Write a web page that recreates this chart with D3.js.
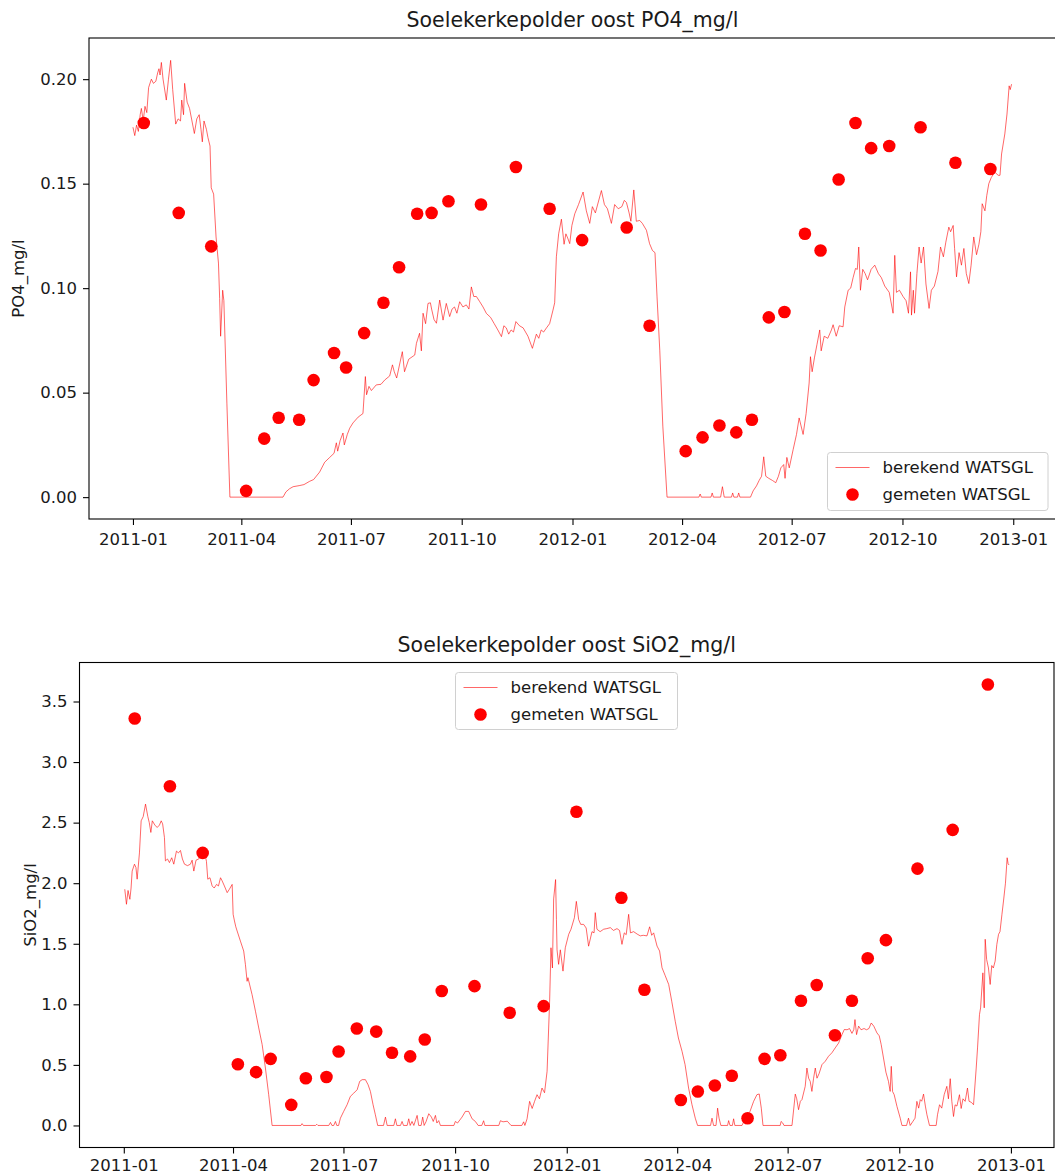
<!DOCTYPE html>
<html>
<head>
<meta charset="utf-8">
<script src="https://cdn.jsdelivr.net/npm/d3@7"></script>
<style>
  html, body { margin: 0; padding: 0; background: #fff; }
  svg { display: block; font-family: "DejaVu Sans", sans-serif; }
</style>
</head>
<body>
<svg id="chart" width="1055" height="1175"></svg>
<script>
// ---------------- DATA ----------------
const baseDate = "2011-01-01"; // day offsets of the calculated series count from here
const xTickLabels = ["2011-01","2011-04","2011-07","2011-10","2012-01","2012-04","2012-07","2012-10","2013-01"];
const po4TickValues = [0, 0.05, 0.10, 0.15, 0.20];
const sio2TickValues = [0, 0.5, 1.0, 1.5, 2.0, 2.5, 3.0, 3.5];
const seriesNames = ["berekend WATSGL", "gemeten WATSGL"];

const measuredDates = ["2011-01-10","2011-02-08","2011-03-07","2011-04-05","2011-04-20","2011-05-02","2011-05-19","2011-05-31",
  "2011-06-17","2011-06-27","2011-07-12","2011-07-28","2011-08-10","2011-08-25","2011-09-06","2011-09-20","2011-10-17",
  "2011-11-15","2011-12-13","2012-01-09","2012-02-15","2012-03-05","2012-04-04","2012-04-18","2012-05-02","2012-05-16",
  "2012-05-29","2012-06-12","2012-06-25","2012-07-12","2012-07-25","2012-08-09","2012-08-23","2012-09-05","2012-09-20",
  "2012-10-16","2012-11-14","2012-12-13"];

const po4Measured = [0.179,0.136,0.120,0.003,0.028,0.038,0.037,0.056,0.069,0.062,0.0785,0.093,0.110,0.1356,0.136,0.1416,
  0.140,0.158,0.138,0.123,0.129,0.082,0.022,0.0286,0.0343,0.031,0.037,0.086,0.0886,0.126,0.118,0.152,0.179,0.167,0.168,
  0.177,0.160,0.157];

const sio2Measured = [3.36,2.80,2.25,0.505,0.44,0.55,0.17,0.39,0.40,0.61,0.80,0.775,0.60,0.57,0.71,1.11,1.15,0.93,0.985,
  2.59,1.88,1.12,0.21,0.28,0.33,0.41,0.06,0.55,0.58,1.03,1.16,0.745,1.03,1.38,1.53,2.12,2.44,3.64];

// calculated series: [day offset from baseDate, value]
const po4Calc = [[0,0.177],[1.5,0.173],[3,0.178],[4.5,0.175],[6,0.183],[7,0.186],[8.5,0.180],[10,0.187],[11.5,0.184],
  [13,0.196],[15.3,0.200],[17,0.198],[19,0.199],[20.5,0.203],[21.6,0.205],[22.5,0.202],[23.6,0.208],[25,0.200],[27.7,0.190],
  [29.5,0.200],[31.3,0.209],[33,0.195],[35.5,0.1785],[37.5,0.181],[39.5,0.180],[40.5,0.190],[42,0.183],[42.9,0.198],
  [45,0.189],[47,0.186],[49,0.180],[51,0.174],[53,0.181],[55,0.183],[56.5,0.176],[57.6,0.170],[59,0.180],[61,0.176],
  [62.3,0.172],[64,0.168],[65,0.148],[67,0.145],[69,0.1245],[71,0.112],[72,0.095],[72.8,0.077],[74.5,0.099],[75.5,0.094],
  [78,0.045],[80.5,0.0],[124.6,0.0],[127,0.0025],[130,0.004],[133,0.005],[138,0.0055],[142,0.006],[146.8,0.0076],
  [150,0.0084],[155,0.012],[159.2,0.0167],[163,0.0188],[167,0.021],[168.9,0.026],[170,0.022],[172,0.027],[174.4,0.0307],
  [175.5,0.025],[178,0.030],[180,0.033],[182.7,0.0355],[187,0.0383],[191,0.040],[193,0.0577],[194,0.049],[196,0.053],
  [198,0.051],[202,0.0537],[206,0.054],[209,0.056],[213.2,0.058],[215.5,0.0633],[217,0.060],[219,0.057],[223.7,0.0696],
  [225.5,0.060],[229,0.066],[234,0.068],[235.4,0.0736],[238,0.0784],[239.5,0.070],[240.9,0.088],[243,0.083],[245,0.0927],
  [247,0.093],[248,0.090],[250,0.085],[252,0.0832],[254.7,0.0943],[257.5,0.0847],[260.2,0.0927],[263,0.0864],[265,0.090],
  [267,0.091],[269,0.088],[271.3,0.0935],[274,0.091],[276.8,0.092],[279,0.090],[281,0.1006],[283,0.096],[285.2,0.096],
  [288,0.0935],[290.7,0.091],[293.5,0.0879],[297,0.086],[300,0.083],[303,0.080],[306,0.0768],[308,0.082],[310,0.081],
  [312,0.078],[314,0.080],[316,0.079],[318,0.084],[321,0.082],[324,0.081],[326,0.079],[328,0.077],[331.7,0.0712],
  [335,0.078],[337,0.076],[339,0.080],[341,0.079],[343.4,0.081],[346,0.083],[348.8,0.0895],[350.2,0.093],[351.6,0.115],
  [353.5,0.126],[355.8,0.133],[358,0.121],[359.5,0.126],[361,0.124],[362.7,0.1213],[364.5,0.130],[366.9,0.1356],
  [370,0.140],[373.8,0.146],[376.5,0.137],[379.3,0.131],[381.5,0.139],[384,0.136],[389,0.1467],[391.5,0.140],[394,0.138],
  [397.3,0.131],[400,0.140],[403,0.138],[406,0.139],[408,0.142],[409.8,0.141],[412,0.136],[413.5,0.132],[415.9,0.147],
  [418,0.132],[420.8,0.1324],[423,0.131],[426.4,0.1277],[429,0.1213],[431.4,0.118],[433.5,0.117],[435.2,0.0958],
  [437.5,0.070],[440,0.034],[443.5,0.0],[470,0.0],[471,0.0015],[472,0.0],[480,0.0],[481,0.002],[482,0.0],[488,0.0],
  [489.5,0.005],[491,0.0],[497,0.0],[498,0.002],[499,0.0],[502,0.0],[503,0.002],[504,0.0],[512.8,0.0],[515,0.003],
  [517.8,0.0054],[520,0.008],[522,0.010],[523.8,0.0193],[525.5,0.010],[528,0.009],[531,0.008],[533.8,0.0069],[536,0.010],
  [538,0.014],[540.4,0.0156],[541.5,0.009],[543,0.019],[545,0.014],[548.2,0.0227],[551,0.030],[553.2,0.0379],[556.5,0.030],
  [559,0.040],[561.5,0.0546],[562.6,0.0672],[564,0.060],[566,0.067],[568,0.073],[570.3,0.080],[571.5,0.070],[574,0.077],
  [577,0.076],[580,0.080],[581.4,0.0825],[584,0.077],[586.5,0.082],[589.7,0.0815],[591.1,0.091],[593.9,0.099],[596,0.100],
  [598,0.105],[600,0.1094],[601.5,0.109],[602.7,0.1197],[604.1,0.099],[606,0.109],[608,0.107],[610,0.104],[613,0.109],
  [616,0.111],[619,0.107],[621.5,0.105],[624.3,0.101],[628,0.098],[631.2,0.088],[632.6,0.1157],[634,0.098],[636.5,0.099],
  [639.5,0.096],[642,0.094],[644,0.088],[645.7,0.1078],[646.5,0.0871],[648,0.099],[649,0.088],[651,0.107],[652.8,0.1197],
  [654.5,0.112],[656.5,0.1197],[658.5,0.102],[661.1,0.0903],[663,0.099],[665.5,0.101],[668.5,0.108],[670.6,0.1197],
  [673,0.115],[675,0.122],[677.5,0.1292],[679,0.127],[681.1,0.130],[682.3,0.119],[683.9,0.1054],[686,0.117],[688,0.111],
  [690,0.119],[692,0.107],[694.1,0.1022],[696,0.111],[698.2,0.1245],[700.5,0.116],[702.5,0.121],[704.1,0.127],
  [705.2,0.1404],[707.5,0.137],[709,0.1443],[710.7,0.150],[712.8,0.153],[715.7,0.1555],[718.5,0.154],[720,0.154],
  [721.3,0.1642],[724,0.1738],[725.8,0.1833],[727.6,0.1968],[728.5,0.1950],[729.6,0.1976]];

const sio2Calc = [[0.8,1.95],[2.2,1.826],[3.5,1.94],[5,1.867],[6,1.96],[6.9,2.10],[8.8,2.157],[10,2.13],[11,2.033],
  [12.9,2.25],[14.3,2.515],[16,2.55],[17.9,2.653],[19.8,2.55],[21,2.50],[22.3,2.419],[23.5,2.515],[25.6,2.48],[27.5,2.46],
  [29.4,2.48],[30.8,2.515],[32,2.49],[33.5,2.377],[34.3,2.184],[36,2.20],[37.6,2.17],[39.5,2.21],[41.2,2.157],[43.4,2.265],
  [45,2.25],[46.7,2.27],[48.3,2.20],[50,2.157],[52.5,2.145],[54.9,2.157],[56.3,2.19],[57.7,2.10],[59.5,2.19],[61.8,2.20],
  [64,2.23],[66.5,2.26],[68.1,2.18],[69.2,2.033],[71,2.045],[72.8,1.977],[74.5,1.96],[76.4,1.99],[78,1.977],[79.7,2.045],
  [81,2.02],[82.9,1.977],[85.2,1.922],[87,1.95],[89.3,1.99],[90.1,1.743],[91.2,1.688],[92.3,1.64],[93.4,1.605],[96.1,1.522],
  [98.8,1.44],[100.2,1.33],[101.6,1.19],[102.3,1.22],[105.7,1.08],[108.5,0.943],[111.2,0.805],[114,0.668],[116.7,0.474],
  [119.4,0.254],[122.2,0.0],[146,0.0],[146.9,0.015],[148,0.0],[158,0.0],[159,0.01],[160,0.0],[168.9,0.0],[170.3,0.025],
  [171.5,0.0],[173,0.0],[174.4,0.033],[175.5,0.0],[177,0.0],[178.5,0.06],[181.2,0.116],[184,0.171],[186.7,0.24],
  [189.5,0.267],[192.3,0.295],[194.4,0.364],[196.4,0.378],[199.1,0.378],[201.3,0.336],[203.2,0.281],[205.4,0.171],
  [207.3,0.088],[209.2,0.0],[214,0.0],[215.6,0.069],[217,0.0],[222.5,0.0],[223.8,0.055],[225,0.0],[228,0.0],[229.3,0.033],
  [230.5,0.0],[233.5,0.0],[234.8,0.055],[236,0.0],[237.5,0.033],[239,0.0],[241.7,0.083],[243,0.0],[245,0.0],[246.3,0.069],
  [247.5,0.0],[249,0.03],[251.3,0.097],[253.5,0.069],[255,0.033],[256.8,0.083],[258,0.02],[259.5,0.04],[260.9,0.0],
  [272,0.0],[273.2,0.033],[275,0.02],[278.7,0.069],[281.5,0.116],[284.2,0.116],[287,0.055],[289.7,0.033],[292,0.0],
  [295,0.0],[296.5,0.039],[297.5,0.0],[309,0.0],[310.3,0.039],[312.5,0.03],[316,0.035],[319.1,0.0],[328,0.0],[329.5,0.03],
  [330.5,0.0],[332.3,0.055],[334.4,0.199],[336.5,0.14],[338.5,0.199],[340.5,0.254],[342.5,0.22],[344.6,0.309],[346.7,0.27],
  [348.8,0.447],[350.9,1.026],[352,1.467],[353.2,1.30],[354.2,1.87],[355.8,2.03],[356.5,1.70],[357,1.45],[358.3,1.33],
  [359.7,1.45],[361.9,1.274],[363.8,1.467],[366.6,1.578],[368.5,1.62],[371.3,1.715],[372.9,1.85],[374.8,1.70],[376.5,1.66],
  [378.9,1.66],[381,1.63],[383,1.48],[385.8,1.60],[387.5,1.59],[388.5,1.757],[389.9,1.62],[392.5,1.60],[395.4,1.62],
  [398,1.625],[400.9,1.633],[403.5,1.61],[406.4,1.625],[408.5,1.61],[410.5,1.495],[412.4,1.59],[414,1.575],[416,1.743],
  [417.5,1.59],[420.1,1.60],[423,1.58],[425.6,1.565],[428,1.57],[431.1,1.565],[433.3,1.64],[435,1.57],[436.6,1.59],
  [439.4,1.481],[441.5,1.44],[443.5,1.302],[446,1.24],[449,1.164],[451.5,1.026],[454.4,0.86],[457,0.722],[460,0.612],
  [462.5,0.502],[465.4,0.309],[468.2,0.171],[470.9,0.06],[472.8,0.0],[483.5,0.0],[484.7,0.06],[486,0.0],[488,0.0],
  [489.3,0.143],[490.5,0.06],[492,0.0],[497.5,0.0],[498.4,0.04],[499.5,0.0],[501.5,0.0],[502.5,0.055],[503.5,0.0],
  [509.4,0.0],[513.5,0.088],[516,0.116],[519,0.199],[521.7,0.254],[523.6,0.26],[525.3,0.143],[526.7,0.0],[540.9,0.0],
  [541.6,0.033],[543,0.02],[544,0.0],[550.6,0.0],[553.3,0.259],[554.5,0.22],[556,0.13],[557.5,0.20],[558.8,0.213],
  [561.5,0.323],[562.9,0.474],[564.3,0.39],[565.6,0.364],[567,0.281],[568.4,0.39],[569.8,0.474],[571.2,0.39],[573,0.43],
  [575.3,0.502],[578,0.53],[580.7,0.571],[583.5,0.60],[586.2,0.64],[589,0.68],[591.8,0.75],[593.7,0.792],[596,0.79],
  [598,0.80],[600,0.76],[601.5,0.79],[602.5,0.874],[603.8,0.75],[605.5,0.82],[607.5,0.79],[610,0.80],[612,0.79],[614,0.80],
  [615.9,0.846],[618,0.82],[620.6,0.764],[622.5,0.74],[624.1,0.668],[626,0.557],[628,0.44],[630.1,0.364],[631.5,0.281],
  [632.4,0.488],[633.5,0.28],[634.8,0.254],[637.1,0.157],[639.8,0.06],[641.2,0.0],[645,0.0],[646.6,0.06],[648,0.0],
  [650,0.03],[652,0.06],[653.5,0.199],[655,0.143],[656.3,0.213],[657.5,0.20],[659,0.259],[660.5,0.16],[661.8,0.088],
  [663.9,0.0],[669.4,0.0],[670.5,0.088],[672.2,0.171],[674,0.143],[676,0.254],[678.2,0.323],[679.5,0.22],[681,0.386],
  [682.3,0.20],[683.7,0.074],[685,0.17],[686.5,0.16],[688.6,0.254],[690,0.14],[691.5,0.22],[693.3,0.199],[695.2,0.309],
  [696.5,0.2],[698.5,0.19],[700.2,0.171],[702.4,0.474],[703.5,0.64],[705.1,0.916],[706,0.97],[707.9,1.26],[709,0.971],
  [709.8,1.537],[711,1.37],[712.5,1.30],[713.9,1.164],[715.2,1.32],[716.5,1.30],[718,1.357],[719.4,1.495],[720.8,1.578],
  [722,1.6],[723.6,1.743],[724.9,1.853],[726.5,2.0],[727.9,2.21],[728.7,2.16],[729.5,2.15]];

// ---------------- DRAWING ----------------
const DAY = 864e5;
const base = new Date(baseDate + "T00:00:00Z").getTime();
const toDate = d => new Date(base + d * DAY);
const parseDay = d3.utcParse("%Y-%m-%d");
const parseMonth = d3.utcParse("%Y-%m");
const fmtMonth = d3.utcFormat("%Y-%m");
const xDomain = [toDate(-36.5), toDate(766.5)];

const panels = [
  { title: "Soelekerkepolder oost PO4_mg/l", ylabel: "PO4_mg/l", calc: po4Calc, meas: po4Measured,
    yDomain: [-0.01046, 0.2197], yTicks: po4TickValues, fmt: d3.format(".2f"),
    box: { l: 89, r: 1056, t: 38, b: 519 }, ylabelX: 18, xPad: 8,
    legend: { x: 827.5, y: 452.5, w: 220.5, h: 58 } },
  { title: "Soelekerkepolder oost SiO2_mg/l", ylabel: "SiO2_mg/l", calc: sio2Calc, meas: sio2Measured,
    yDomain: [-0.182, 3.822], yTicks: sio2TickValues, fmt: d3.format(".1f"),
    box: { l: 79.5, r: 1054, t: 662.5, b: 1147.5 }, ylabelX: 30, xPad: 6,
    legend: { x: 455.5, y: 672.5, w: 222, h: 57 } }
];

const svg = d3.select("#chart");
const textColor = "#1a1a1a";
const fontSize = 16.5;
const lineColor = "#ff0000";

panels.forEach(p => {
  const x = d3.scaleUtc().domain(xDomain).range([p.box.l, p.box.r]);
  const y = d3.scaleLinear().domain(p.yDomain).range([p.box.b, p.box.t]);
  const g = svg.append("g");

  const clipId = "clip" + p.ylabel.replace(/[^a-z0-9]/gi, "");
  svg.append("clipPath").attr("id", clipId).append("rect")
    .attr("x", p.box.l).attr("y", p.box.t).attr("width", p.box.r - p.box.l).attr("height", p.box.b - p.box.t);

  // calculated line
  const line = d3.line().x(d => x(toDate(d[0]))).y(d => y(d[1]));
  g.append("path").datum(p.calc)
    .attr("d", line).attr("fill", "none").attr("stroke", lineColor)
    .attr("stroke-opacity", 0.75)
    .attr("stroke-width", 0.8).attr("stroke-linejoin", "round")
    .attr("clip-path", `url(#${clipId})`);

  // measured dots
  g.selectAll("circle.meas").data(p.meas).join("circle")
    .attr("class", "meas")
    .attr("cx", (d, i) => x(parseDay(measuredDates[i])))
    .attr("cy", d => y(d))
    .attr("r", 6.3).attr("fill", "#ff0000");

  // axes
  const xAxis = d3.axisBottom(x)
    .tickValues(xTickLabels.map(s => parseMonth(s)))
    .tickFormat(fmtMonth).tickSize(6).tickPadding(p.xPad);
  const gx = g.append("g").attr("transform", `translate(0,${p.box.b})`).call(xAxis);
  const yAxis = d3.axisLeft(y).tickValues(p.yTicks).tickFormat(p.fmt).tickSize(6).tickPadding(6);
  const gy = g.append("g").attr("transform", `translate(${p.box.l},0)`).call(yAxis);
  [gx, gy].forEach(a => {
    a.select(".domain").remove();
    a.selectAll(".tick line").attr("stroke", "#000").attr("stroke-width", 1.1);
    a.selectAll(".tick text").attr("fill", textColor).style("font-size", fontSize + "px")
      .style("font-family", "'DejaVu Sans', sans-serif");
  });

  // frame
  g.append("rect").attr("x", p.box.l).attr("y", p.box.t)
    .attr("width", p.box.r - p.box.l).attr("height", p.box.b - p.box.t)
    .attr("fill", "none").attr("stroke", "#000").attr("stroke-width", 1.1);

  // title
  g.append("text").attr("x", (p.box.l + p.box.r) / 2).attr("y", p.box.t - 11)
    .attr("text-anchor", "middle").attr("fill", textColor)
    .style("font-size", "20.5px").text(p.title);

  // y label
  g.append("text")
    .attr("transform", `translate(${p.ylabelX},${(p.box.t + p.box.b) / 2}) rotate(-90)`)
    .attr("text-anchor", "middle").attr("dy", "0.35em").attr("fill", textColor)
    .style("font-size", fontSize + "px").text(p.ylabel);

  // legend
  const L = p.legend;
  const lg = g.append("g");
  lg.append("rect").attr("x", L.x).attr("y", L.y).attr("width", L.w).attr("height", L.h)
    .attr("rx", 3).attr("fill", "#fff").attr("fill-opacity", 0.8)
    .attr("stroke", "#d0d0d0").attr("stroke-width", 1);
  const row1 = L.y + 15, row2 = L.y + 42;
  lg.append("line").attr("x1", L.x + 8).attr("x2", L.x + 42).attr("y1", row1).attr("y2", row1)
    .attr("stroke", lineColor).attr("stroke-opacity", 0.75).attr("stroke-width", 0.8);
  lg.append("circle").attr("cx", L.x + 25).attr("cy", row2).attr("r", 6.3).attr("fill", "#ff0000");
  lg.append("text").attr("x", L.x + 55).attr("y", row1).attr("dy", "0.35em").attr("fill", textColor)
    .style("font-size", fontSize + "px").text(seriesNames[0]);
  lg.append("text").attr("x", L.x + 55).attr("y", row2).attr("dy", "0.35em").attr("fill", textColor)
    .style("font-size", fontSize + "px").text(seriesNames[1]);
});
</script>
</body>
</html>
